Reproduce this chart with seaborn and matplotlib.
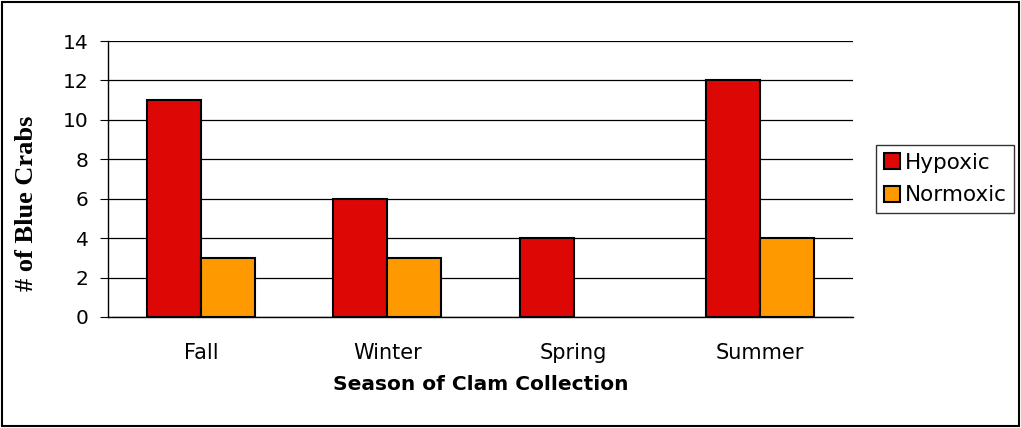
import pandas as pd
import seaborn as sns
import matplotlib.pyplot as plt
from matplotlib.patches import Patch, Rectangle

seasons = ['Fall', 'Winter', 'Spring', 'Summer']
hypoxic = [11, 6, 4, 12]
normoxic = [3, 3, 0, 4]
groups = ['Hypoxic', 'Normoxic']
colors = {'Hypoxic': '#DD0806', 'Normoxic': '#FF9900'}

df = pd.DataFrame({
    'season': seasons * 2,
    'count': hypoxic + normoxic,
    'group': [groups[0]] * 4 + [groups[1]] * 4,
})

sns.set_style('white')
plt.rcParams['font.family'] = ['DejaVu Sans']
plt.rcParams['text.color'] = 'black'
plt.rcParams['xtick.color'] = 'black'
plt.rcParams['ytick.color'] = 'black'
plt.rcParams['axes.labelcolor'] = 'black'

fig = plt.figure(figsize=(10.21, 4.28), dpi=100)
ax = fig.add_axes([108 / 1021, 1 - 317 / 428, 745 / 1021, 276 / 428])
sns.barplot(data=df, x='season', y='count', hue='group', palette=colors,
            width=0.58, edgecolor='black', linewidth=1.5, saturation=1,
            legend=False, ax=ax, zorder=3)
# empty bars have no outline in the original
for p in ax.patches:
    if p.get_height() == 0:
        p.set_linewidth(0)

ax.set_xlim(-0.5, 3.5)
ax.set_ylim(0, 14)
ax.set_yticks(range(0, 15, 2))
ax.yaxis.grid(True, color='black', linewidth=0.9, zorder=0)
ax.set_axisbelow(True)
for s in ['top', 'right']:
    ax.spines[s].set_visible(False)
for s in ['left', 'bottom']:
    ax.spines[s].set_color('black')
    ax.spines[s].set_linewidth(1)

ax.tick_params(axis='x', which='major', length=0, pad=19, labelsize=15)
ax.set_xticks([-0.5, 0.5, 1.5, 2.5, 3.5], minor=True)
ax.tick_params(axis='x', which='minor', length=6, color='black', direction='out')
ax.tick_params(axis='y', length=6, color='black', direction='out', labelsize=14.5, pad=8, left=True)

ax.set_xlabel('Season of Clam Collection', fontsize=14.5, fontweight='bold', labelpad=8)
ax.set_ylabel('# of Blue Crabs', fontsize=19, fontweight='bold', family='Liberation Serif')
ax.yaxis.set_label_coords(-0.094, 0.413)

handles = [Patch(facecolor=colors[g], edgecolor='black', linewidth=1.5, label=g) for g in groups]
leg = fig.legend(handles=handles, loc='center left', bbox_to_anchor=(876 / 1021, 1 - 179 / 428),
                 frameon=True, fancybox=False, edgecolor='black', fontsize=15.5,
                 handlelength=0.75, handleheight=0.75, handletextpad=0.25,
                 borderpad=0.35, labelspacing=0.6, borderaxespad=0)
leg.get_frame().set_linewidth(1)

fig.patches.append(Rectangle((0.002, 0.004), 0.996, 0.992, transform=fig.transFigure,
                             fill=False, edgecolor='black', linewidth=1.5))

fig.savefig('out.png', dpi=100)
